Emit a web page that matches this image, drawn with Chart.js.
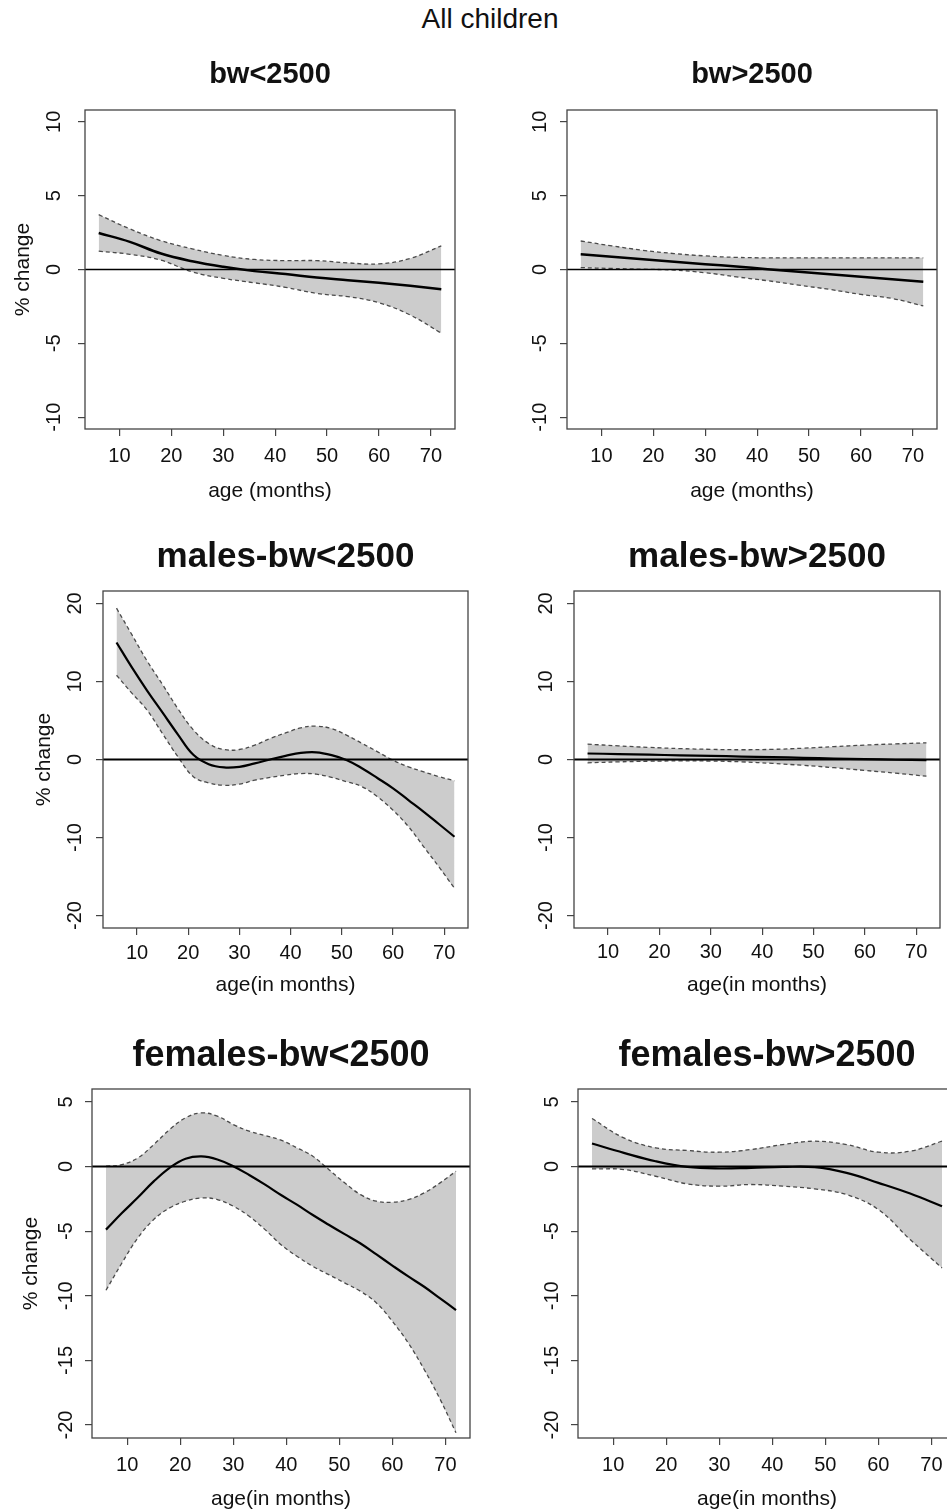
<!DOCTYPE html>
<html><head><meta charset="utf-8">
<script src="https://cdn.jsdelivr.net/npm/chart.js@4.4.1/dist/chart.umd.min.js"></script>
<style>
html,body{margin:0;padding:0;background:#fff;overflow:hidden;width:947px;height:1511px;position:relative;}
canvas{position:absolute;}
#main{position:absolute;left:340px;width:300px;top:5px;text-align:center;font:28px "Liberation Sans",Arial,sans-serif;line-height:28px;color:#111;}
</style></head><body>
<div id="main">All children</div>
<canvas id="p1"></canvas><canvas id="p2"></canvas><canvas id="p3"></canvas>
<canvas id="p4"></canvas><canvas id="p5"></canvas><canvas id="p6"></canvas>
<script>
// ---------- data ----------
const xTicks = [10, 20, 30, 40, 50, 60, 70];
const yTicksAll = [-10, -5, 0, 5, 10];
const yTicksMales = [-20, -10, 0, 10, 20];
const yTicksFemales = [-20, -15, -10, -5, 0, 5];

const ages6 = [6, 12, 18, 24, 30, 36, 42, 48, 54, 60, 66, 72];
const ages3 = [6, 9, 12, 15, 18, 21, 24, 27, 30, 33, 36, 39, 42, 45, 48, 51, 54, 57, 60, 63, 66, 69, 72];

// bw<2500 (all children), ages6
const bwLowMean  = [2.47, 1.87, 1.08, 0.56, 0.18, -0.11, -0.31, -0.54, -0.72, -0.90, -1.10, -1.33];
const bwLowUpper = [3.71, 2.75, 1.95, 1.40, 0.95, 0.68, 0.60, 0.60, 0.45, 0.38, 0.75, 1.60];
const bwLowLower = [1.24, 1.03, 0.63, -0.16, -0.60, -0.90, -1.21, -1.62, -1.84, -2.25, -3.08, -4.31];

// bw>2500 (all children), ages6
const bwHighMean  = [1.03, 0.87, 0.70, 0.53, 0.36, 0.20, 0.02, -0.15, -0.32, -0.49, -0.66, -0.83];
const bwHighUpper = [1.93, 1.60, 1.30, 1.08, 0.92, 0.82, 0.79, 0.79, 0.79, 0.79, 0.79, 0.79];
const bwHighLower = [0.13, 0.07, 0.02, -0.04, -0.22, -0.50, -0.76, -1.06, -1.35, -1.69, -1.96, -2.47];

// males-bw<2500, ages3
const mLowMean  = [15.0, 11.8, 8.8, 6.0, 3.2, 0.6, -0.6, -1.02, -0.94, -0.50, 0.0, 0.47, 0.85, 0.92, 0.56, -0.09, -1.15, -2.4, -3.7, -5.2, -6.7, -8.3, -9.9];
const mLowUpper = [19.4, 16.0, 12.6, 9.6, 6.5, 3.8, 2.05, 1.28, 1.28, 1.84, 2.7, 3.4, 4.06, 4.27, 3.97, 3.1, 2.05, 0.98, -0.09, -0.94, -1.58, -2.2, -2.73];
const mLowLower = [10.8, 8.5, 6.3, 3.3, 0.34, -2.2, -3.0, -3.3, -3.16, -2.65, -2.3, -2.0, -1.8, -1.88, -2.3, -2.86, -3.5, -4.8, -6.5, -8.6, -11.2, -13.8, -16.5];

// males-bw>2500, ages6
const mHighMean  = [0.77, 0.70, 0.62, 0.54, 0.46, 0.38, 0.30, 0.22, 0.12, 0.04, -0.03, -0.09];
const mHighUpper = [1.97, 1.75, 1.55, 1.40, 1.30, 1.25, 1.30, 1.45, 1.65, 1.85, 2.00, 2.14];
const mHighLower = [-0.43, -0.30, -0.22, -0.18, -0.20, -0.30, -0.50, -0.75, -1.05, -1.40, -1.75, -2.14];

// females-bw<2500, ages3
const fLowMean  = [-4.88, -3.6, -2.4, -1.15, -0.1, 0.6, 0.78, 0.55, 0.03, -0.65, -1.4, -2.2, -2.95, -3.75, -4.5, -5.23, -5.95, -6.8, -7.66, -8.5, -9.3, -10.2, -11.1];
const fLowUpper = [0.03, 0.15, 0.67, 1.7, 2.86, 3.77, 4.15, 3.9, 3.25, 2.74, 2.4, 2.04, 1.45, 0.8, -0.23, -1.26, -2.17, -2.68, -2.76, -2.55, -2.04, -1.26, -0.36];
const fLowLower = [-9.57, -7.46, -5.52, -4.1, -3.2, -2.68, -2.43, -2.55, -3.07, -3.85, -4.88, -6.04, -6.94, -7.72, -8.36, -9.0, -9.65, -10.55, -11.97, -13.65, -15.7, -18.0, -20.6];

// females-bw>2500, ages6
const fHighMean  = [1.78, 1.06, 0.41, -0.03, -0.15, -0.10, -0.03, -0.05, -0.49, -1.26, -2.09, -3.07];
const fHighUpper = [3.72, 2.22, 1.45, 1.24, 1.11, 1.32, 1.70, 1.96, 1.70, 1.11, 1.19, 1.96];
const fHighLower = [-0.18, -0.23, -0.75, -1.34, -1.52, -1.39, -1.52, -1.73, -2.17, -3.33, -5.65, -7.84];

// ---------- layout (page coordinates) ----------
const FONT = '"Liberation Sans", Arial, Helvetica, sans-serif';
const panels = [
  {id:'p1', title:'bw<2500', tSize:29, tBase:83, ages:ages6, mean:bwLowMean, up:bwLowUpper, lo:bwLowLower,
   yTicks:yTicksAll, yMin:-10.8, yMax:10.8, xTitle:'age (months)', yTitle:true, zeroW:1.3, meanW:2.5,
   cv:{l:0,t:40,w:470,h:480}, box:{l:85,r:455,t:110,b:429}, xlOff:32.7, ylOff:25, xtOff:67.5, ytOff:56},
  {id:'p2', title:'bw>2500', tSize:29, tBase:83, ages:ages6, mean:bwHighMean, up:bwHighUpper, lo:bwHighLower,
   yTicks:yTicksAll, yMin:-10.8, yMax:10.8, xTitle:'age (months)', yTitle:false, zeroW:1.3, meanW:2.5,
   cv:{l:470,t:40,w:477,h:480}, box:{l:567,r:937,t:110,b:429}, xlOff:32.7, ylOff:21, xtOff:68, ytOff:56},
  {id:'p3', title:'males-bw<2500', tSize:35, tBase:567, ages:ages3, mean:mLowMean, up:mLowUpper, lo:mLowLower,
   yTicks:yTicksMales, yMin:-21.6, yMax:21.6, xTitle:'age(in months)', yTitle:true, zeroW:2, meanW:2.2,
   cv:{l:0,t:520,w:470,h:490}, box:{l:103,r:468,t:591,b:928}, xlOff:30.6, ylOff:22, xtOff:63, ytOff:53},
  {id:'p4', title:'males-bw>2500', tSize:35, tBase:567, ages:ages6, mean:mHighMean, up:mHighUpper, lo:mHighLower,
   yTicks:yTicksMales, yMin:-21.6, yMax:21.6, xTitle:'age(in months)', yTitle:false, zeroW:2, meanW:2.2,
   cv:{l:470,t:520,w:477,h:490}, box:{l:574,r:940,t:591,b:928}, xlOff:30.3, ylOff:22, xtOff:63, ytOff:53},
  {id:'p5', title:'females-bw<2500', tSize:36, tBase:1066, ages:ages3, mean:fLowMean, up:fLowUpper, lo:fLowLower,
   yTicks:yTicksFemales, yMin:-21, yMax:6, xTitle:'age(in months)', yTitle:true, zeroW:2, meanW:2.2,
   cv:{l:0,t:1010,w:472,h:501}, box:{l:92,r:470,t:1089,b:1438}, xlOff:33.4, ylOff:20, xtOff:66.7, ytOff:55},
  {id:'p6', title:'females-bw>2500', tSize:36, tBase:1066, ages:ages6, mean:fHighMean, up:fHighUpper, lo:fHighLower,
   yTicks:yTicksFemales, yMin:-21, yMax:6, xTitle:'age(in months)', yTitle:false, zeroW:2, meanW:2.2,
   cv:{l:472,t:1010,w:500,h:501}, box:{l:578,r:956,t:1089,b:1438}, xlOff:33.4, ylOff:20, xtOff:66.7, ytOff:55}
];

const deco = {
  id: 'deco',
  afterDatasetsDraw(chart, args, o) {
    const ctx = chart.ctx, ca = chart.chartArea, ys = chart.scales.y;
    ctx.save();
    ctx.beginPath(); ctx.rect(ca.left, ca.top, ca.right - ca.left, ca.bottom - ca.top); ctx.clip();
    const y0 = ys.getPixelForValue(0);
    ctx.strokeStyle = '#000'; ctx.lineWidth = o.p.zeroW; ctx.setLineDash([]);
    ctx.beginPath(); ctx.moveTo(ca.left, y0); ctx.lineTo(ca.right, y0); ctx.stroke();
    ctx.restore();
  },
  afterDraw(chart, args, o) {
    const P = o.p, ctx = chart.ctx, ca = chart.chartArea, xs = chart.scales.x, ys = chart.scales.y;
    const oy = P.cv.t;
    ctx.save();
    ctx.setLineDash([]);
    ctx.strokeStyle = '#444'; ctx.lineWidth = 1.3;
    ctx.strokeRect(ca.left, ca.top, ca.right - ca.left, ca.bottom - ca.top);
    ctx.fillStyle = '#111';
    ctx.font = '20px ' + FONT; ctx.textAlign = 'center'; ctx.textBaseline = 'alphabetic';
    xTicks.forEach(v => ctx.fillText(String(v), xs.getPixelForValue(v), ca.bottom + P.xlOff));
    P.yTicks.forEach(v => {
      ctx.save();
      ctx.translate(ca.left - P.ylOff, ys.getPixelForValue(v));
      ctx.rotate(-Math.PI / 2);
      ctx.fillText(String(v), 0, 0);
      ctx.restore();
    });
    ctx.font = '21px ' + FONT;
    ctx.fillText(P.xTitle, (ca.left + ca.right) / 2, ca.bottom + P.xtOff);
    if (P.yTitle) {
      ctx.save();
      ctx.translate(ca.left - P.ytOff, (ca.top + ca.bottom) / 2);
      ctx.rotate(-Math.PI / 2);
      ctx.fillText('% change', 0, 0);
      ctx.restore();
    }
    ctx.font = 'bold ' + P.tSize + 'px ' + FONT;
    ctx.fillText(P.title, (ca.left + ca.right) / 2, P.tBase - oy);
    ctx.restore();
  }
};

panels.forEach(P => {
  const cv = document.getElementById(P.id);
  cv.width = P.cv.w; cv.height = P.cv.h;
  cv.style.left = P.cv.l + 'px'; cv.style.top = P.cv.t + 'px';
  cv.style.width = P.cv.w + 'px'; cv.style.height = P.cv.h + 'px';
  const pts = arr => P.ages.map((a, i) => ({x: a, y: arr[i]}));
  const band = () => ({borderColor: '#4a4a4a', borderWidth: 1.3, borderDash: [4, 3], pointRadius: 0,
                       tension: 0.4});
  new Chart(cv, {
    type: 'line',
    data: {
      datasets: [
        Object.assign({data: pts(P.up), fill: '+1', backgroundColor: '#cccccc', order: 2}, band()),
        Object.assign({data: pts(P.lo), fill: false, order: 1}, band()),
        {data: pts(P.mean), borderColor: '#000', borderWidth: P.meanW, pointRadius: 0, order: 0,
         tension: 0.4, fill: false}
      ]
    },
    options: {
      responsive: false, animation: false, devicePixelRatio: 1,
      layout: {padding: {left: 0, bottom: 0, top: P.box.t - P.cv.t, right: P.cv.l + P.cv.w - P.box.r}},
      plugins: {legend: {display: false}, tooltip: {enabled: false}, deco: {p: P}},
      scales: {
        x: {type: 'linear', min: 3.36, max: 74.64,
            afterBuildTicks: s => { s.ticks = xTicks.map(v => ({value: v})); },
            afterFit: s => { s.height = P.cv.t + P.cv.h - P.box.b; },
            ticks: {display: false},
            grid: {display: true, drawOnChartArea: false, drawTicks: true, tickLength: 7, color: '#444', lineWidth: 1.2},
            border: {display: false}},
        y: {type: 'linear', min: P.yMin, max: P.yMax,
            afterBuildTicks: s => { s.ticks = P.yTicks.map(v => ({value: v})); },
            afterFit: s => { s.width = P.box.l - P.cv.l; },
            ticks: {display: false},
            grid: {display: true, drawOnChartArea: false, drawTicks: true, tickLength: 7, color: '#444', lineWidth: 1.2},
            border: {display: false}}
      }
    },
    plugins: [deco]
  });
});
</script>
</body></html>
